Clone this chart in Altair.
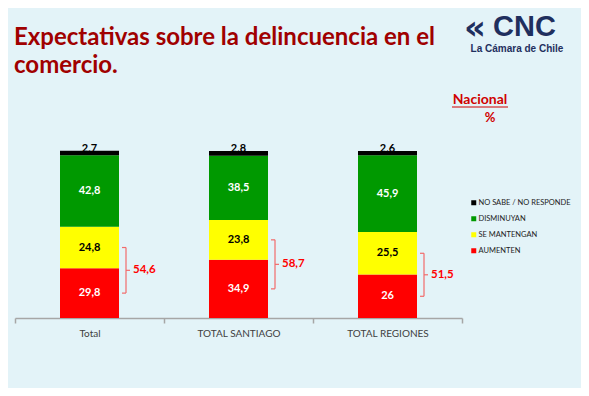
import altair as alt
import pandas as pd

categories = ["Total", "TOTAL SANTIAGO", "TOTAL REGIONES"]
series = ["AUMENTEN", "SE MANTENGAN", "DISMINUYAN", "NO SABE / NO RESPONDE"]
aumenten = [29.8, 34.9, 26.0]
se_mantengan = [24.8, 23.8, 25.5]
disminuyan = [42.8, 38.5, 45.9]
no_sabe = [2.7, 2.8, 2.6]

series_colors = ["#ff0000", "#ffff00", "#009900", "#000000"]
label_colors = ["#ffffff", "#000000", "#ffffff", "#000000"]
legend_order = ["NO SABE / NO RESPONDE", "DISMINUYAN", "SE MANTENGAN", "AUMENTEN"]
legend_colors = ["#000000", "#009900", "#ffff00", "#ff0000"]


def fmt(v):
    return f"{v:g}".replace(".", ",")


rows = []
for i, cat in enumerate(categories):
    for k, (s, vals) in enumerate(zip(series, [aumenten, se_mantengan, disminuyan, no_sabe])):
        rows.append({"cat": cat, "serie": s, "val": vals[i], "ord": k,
                     "lab": fmt(vals[i]), "lcol": label_colors[k]})
df = pd.DataFrame(rows)

bk = pd.DataFrame({
    "cat": categories,
    "lo": [a / 2 for a in aumenten],
    "hi": [a + m / 2 for a, m in zip(aumenten, se_mantengan)],
    "tot": [fmt(round(a + m, 1)) for a, m in zip(aumenten, se_mantengan)],
})
bk["mid"] = (bk["lo"] + bk["hi"]) / 2

one = pd.DataFrame({"a": [0]})

TEXT_FONT = "Lato"
RED = "#ff0000"
BRACKET = "#f26b6b"

x_enc = alt.X("cat:N", sort=categories, title=None,
              scale=alt.Scale(paddingInner=0, paddingOuter=0),
              axis=alt.Axis(labelAngle=0, labelFont=TEXT_FONT, labelFontSize=10,
                            labelColor="#404040", domainColor="#a6a6a6", domainWidth=1.5,
                            tickColor="#a6a6a6", tickWidth=1.5, tickSize=5, tickBand="extent",
                            labelPadding=5, grid=False))
xc = alt.X("cat:N", sort=categories)
y_scale = alt.Scale(domain=[0, 100])

bars = alt.Chart(df).mark_bar(size=59).encode(
    x=x_enc,
    y=alt.Y("val:Q", stack="zero", scale=y_scale, axis=None),
    color=alt.Color("serie:N", scale=alt.Scale(domain=legend_order, range=legend_colors),
                    legend=alt.Legend(title=None, orient="none", legendX=455, legendY=48,
                                      symbolType="square", symbolSize=25, symbolStrokeWidth=0,
                                      labelFont=TEXT_FONT, labelFontSize=7.5, labelColor="#222222",
                                      rowPadding=7, labelOffset=1)),
    order=alt.Order("ord:Q"),
)

stacked = alt.Chart(df).transform_stack(
    stack="val", groupby=["cat"], sort=[alt.SortField("ord")], as_=["y0", "y1"]
).transform_calculate(mid="(datum.y0 + datum.y1) / 2")

inner = stacked.transform_filter("datum.ord < 3").mark_text(
    font=TEXT_FONT, fontSize=11, fontWeight="bold", baseline="middle"
).encode(x=xc, y=alt.Y("mid:Q", scale=y_scale),
         text="lab:N", color=alt.Color("lcol:N", scale=None))

top = stacked.transform_filter("datum.ord == 3").mark_text(
    font=TEXT_FONT, fontSize=11, fontWeight="bold", baseline="alphabetic", dy=1, color="#000000"
).encode(x=xc, y=alt.Y("y1:Q", scale=y_scale), text="lab:N")

bk_base = alt.Chart(bk)
vline = bk_base.mark_rule(xOffset=36.5, color=BRACKET, strokeWidth=1.2).encode(
    x=xc, y=alt.Y("lo:Q", scale=y_scale), y2="hi:Q")
hook_lo = bk_base.mark_rule(xOffset=32.5, x2Offset=36.5, color=BRACKET, strokeWidth=1.2).encode(
    x=xc, x2="cat:N", y=alt.Y("lo:Q", scale=y_scale))
hook_hi = bk_base.mark_rule(xOffset=32.5, x2Offset=36.5, color=BRACKET, strokeWidth=1.2).encode(
    x=xc, x2="cat:N", y=alt.Y("hi:Q", scale=y_scale))
hook_mid = bk_base.mark_rule(xOffset=36.5, x2Offset=40.5, color=BRACKET, strokeWidth=1.2).encode(
    x=xc, x2="cat:N", y=alt.Y("mid:Q", scale=y_scale))
tot_text = bk_base.mark_text(font=TEXT_FONT, fontSize=11.5, fontWeight="bold", color=RED,
                             align="left", baseline="middle", xOffset=43.5).encode(
    x=xc, y=alt.Y("mid:Q", scale=y_scale), text="tot:N")


def deco(text, x, y, **kw):
    return alt.Chart(one).mark_text(text=text, **kw).encode(x=alt.value(x), y=alt.value(y))


title1 = deco("Expectativas sobre la delincuencia en el", -1, -106, font=TEXT_FONT, fontSize=24,
              fontWeight="bold", color="#a00000", align="left", baseline="alphabetic")
title2 = deco("comercio.", -1, -78, font=TEXT_FONT, fontSize=24,
              fontWeight="bold", color="#a00000", align="left", baseline="alphabetic")
logo_mark = deco("«", 460, -122, font="DejaVu Sans", fontSize=34, fontWeight="bold",
                 color="#1f2f5e", align="center", baseline="middle")
logo_cnc = deco("CNC", 478, -115, font="Liberation Sans", fontSize=29, fontWeight="bold",
                color="#1f2f5e", align="left", baseline="alphabetic")
logo_sub = deco("La Cámara de Chile", 502, -99, font="Liberation Sans", fontSize=10,
                fontWeight="bold", color="#1f2f5e", align="center", baseline="alphabetic")
nacional = deco("Nacional", 465, -47, font=TEXT_FONT, fontSize=14, fontWeight="bold",
                color="#d00000", align="center", baseline="alphabetic")
underline = alt.Chart(one).mark_rule(color="#d00000", strokeWidth=1).encode(
    x=alt.value(437), x2=alt.value(493), y=alt.value(-44))
pct = deco("%", 475, -29, font=TEXT_FONT, fontSize=13, fontWeight="bold",
           color="#d00000", align="center", baseline="alphabetic")

chart = alt.layer(
    bars, inner, top, vline, hook_lo, hook_hi, hook_mid, tot_text,
    title1, title2, logo_mark, logo_cnc, logo_sub, nacional, underline, pct,
).properties(
    width=447, height=167,
    background="#e3f3f8",
    autosize=alt.AutoSizeParams(type="none"),
    padding={"left": 7, "top": 143, "right": 119, "bottom": 70},
).configure_view(strokeWidth=0)

chart.save("out.html", embed_options={"renderer": "svg", "actions": False})
